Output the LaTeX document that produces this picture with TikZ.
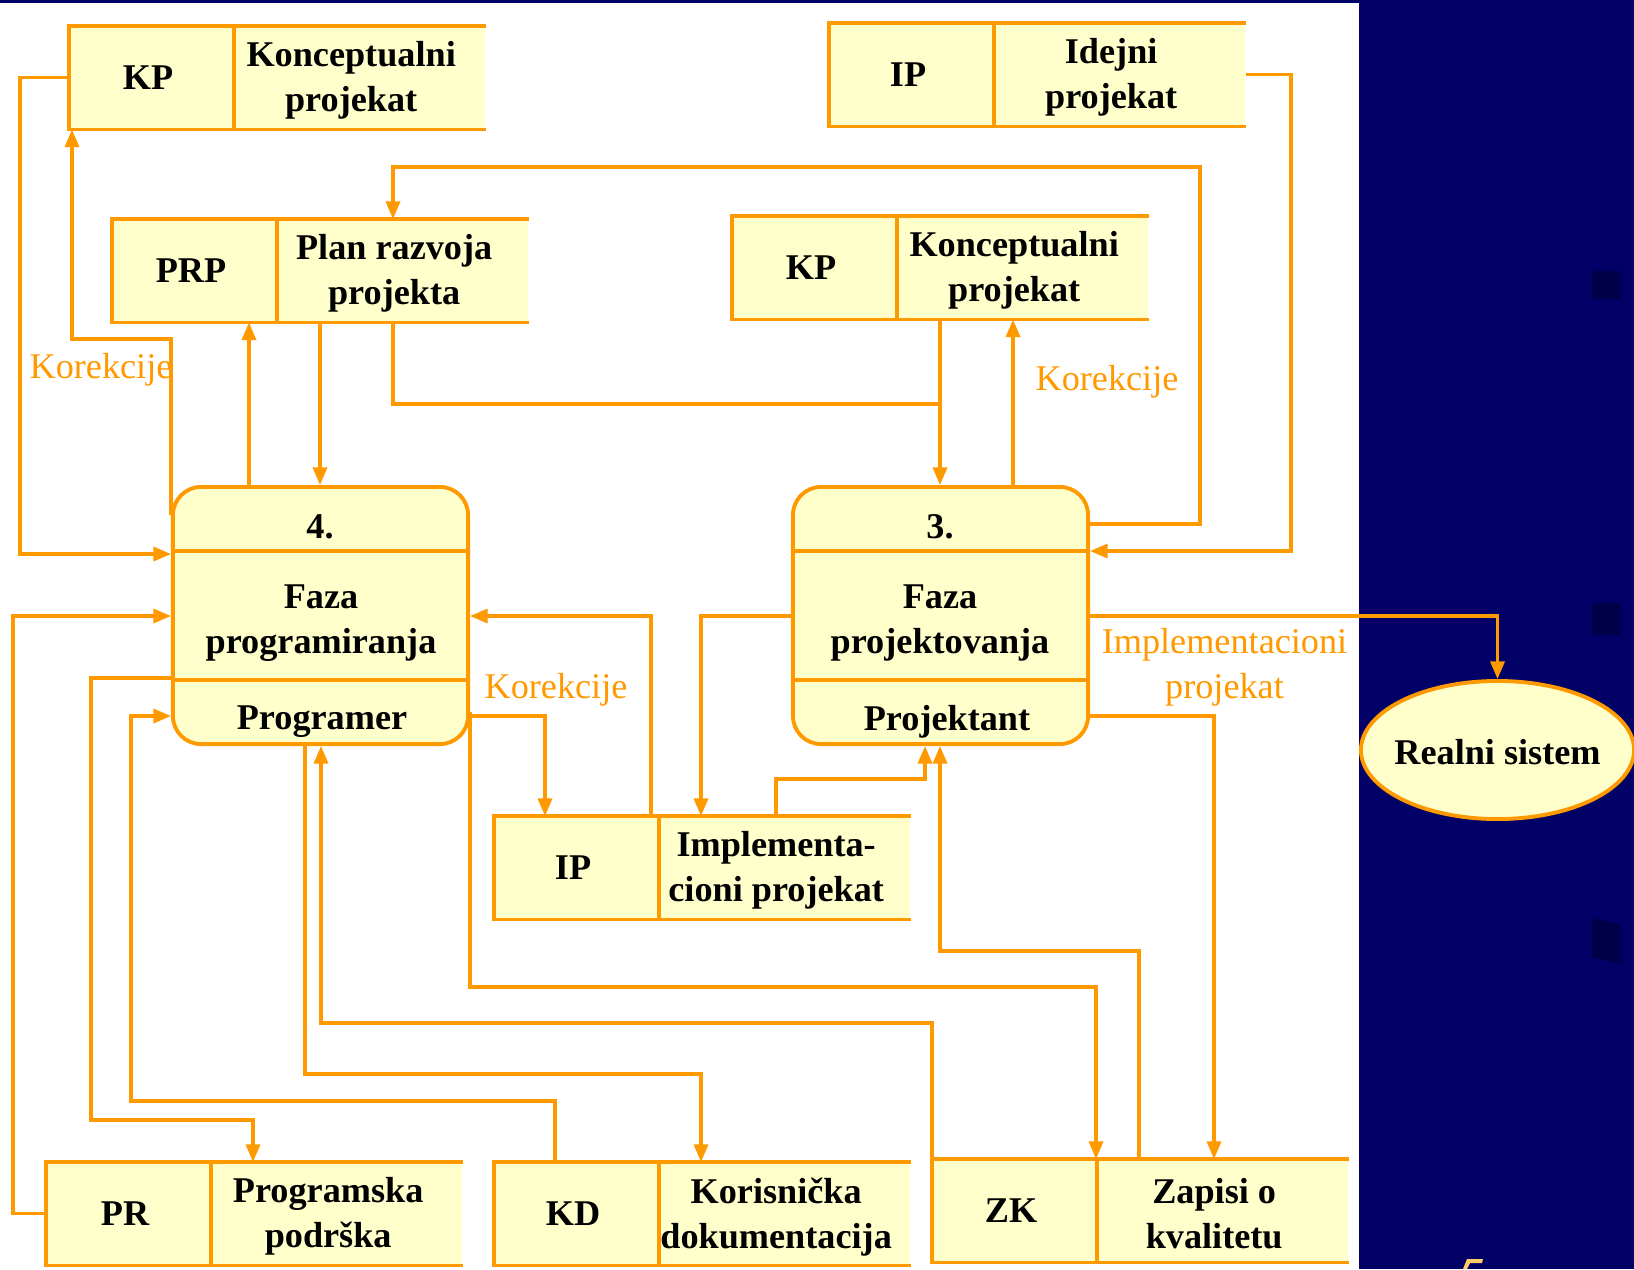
\documentclass[tikz,border=0pt]{standalone}
\usepackage{fontspec}
\setmainfont{Liberation Serif}
\usetikzlibrary{calc,arrows.meta,shapes.geometric,positioning}
\definecolor{dfdorange}{RGB}{255,153,0}
\definecolor{boxfill}{RGB}{255,255,204}
\definecolor{slidenavy}{RGB}{0,0,102}
\definecolor{bulletnavy}{RGB}{0,0,72}
\definecolor{numpeach}{RGB}{255,204,102}
\tikzset{
    store/.style={
    rectangle,fill=boxfill,minimum width=4.15cm,minimum height=1.02cm,inner sep=0pt,anchor=north west
    },
    storeline/.style={
    draw=dfdorange,line width=1.1pt
    },
    process/.style={
    rectangle,rounded corners=8pt,draw=dfdorange,fill=boxfill,line width=1.1pt,
    minimum width=2.95cm,minimum height=2.57cm,inner sep=0pt
    },
    external/.style={
    ellipse,draw=dfdorange,fill=boxfill,line width=1.1pt,
    minimum width=2.73cm,minimum height=1.38cm,inner sep=0pt
    },
    boxtext/.style={
    font=\bfseries\fontsize{10.3}{12.8}\selectfont,align=center,inner sep=0pt
    },
    flowtext/.style={
    text=dfdorange,font=\fontsize{10.3}{12.8}\selectfont,align=center,inner sep=0pt
    },
    wire/.style={
    draw=dfdorange,line width=0.9pt
    },
    flow/.style={
    wire,-{Triangle[length=5pt,width=4pt]}
    },
}
% data store: name, x, y (top left), short name, full name
\newcommand{\datastore}[5]{%
   \node[store] (#1) at (#2,#3) {};
   \draw[storeline] (#1.north east) -- (#1.north west) -- (#1.south west) -- (#1.south east);
   \draw[storeline] ([xshift=1.65cm]#1.north west) -- ([xshift=1.65cm]#1.south west);
   \node[boxtext] (#1-id) at ([xshift=0.79cm]#1.west) {#4};
   \node[boxtext] (#1-txt) at ([xshift=2.82cm,yshift=-0.03cm]#1.west) {#5};
}

\begin{document}
\begin{tikzpicture}[x=0.01cm, y=-0.01cm]
   \useasboundingbox (0,0) rectangle (1634,1269);
   \fill[white] (0,0) rectangle (1359,1269);
   \fill[slidenavy] (1359,0) rectangle (1634,1269);
   \fill[slidenavy] (0,0) rectangle (1359,2.5);
   %bullet marks on the slide
   \fill[bulletnavy] (1592,271) rectangle (1620,299);
   \fill[bulletnavy] (1592,603) rectangle (1620,635);
   \fill[bulletnavy] (1592,918) -- (1620,924) -- (1620,963) -- (1592,957) -- cycle;
   \fill[numpeach] (1463,1269) -- (1467,1259) -- (1483,1259) -- (1482,1263) -- (1470,1263) -- (1467,1269) -- cycle;

   %data stores
   \datastore{kpa}{69}{26}{KP}{Konceptualni\\projekat}
   \datastore{ipa}{829}{23}{IP}{Idejni\\projekat}
   \datastore{prp}{112}{219}{PRP}{Plan razvoja\\projekta}
   \datastore{kpb}{732}{216}{KP}{Konceptualni\\projekat}
   \datastore{ipb}{494}{816}{IP}{Implementa-\\cioni projekat}
   \datastore{pr}{46}{1162}{PR}{Programska\\podrška}
   \datastore{kd}{494}{1162}{KD}{Korisnička\\dokumentacija}
   \datastore{zk}{932}{1159}{ZK}{Zapisi o\\kvalitetu}

   %processes
   \node[process] (p4) at (320.5,615.5) {};
   \draw[storeline] (p4.west |- 0,551) -- (p4.east |- 0,551);
   \draw[storeline] (p4.west |- 0,680) -- (p4.east |- 0,680);
   \node[boxtext] (p4-num) at (320,527) {4.};
   \node[boxtext] (p4-name) at (321,623) {Faza\\programiranja};
   \node[boxtext] (p4-role) at (322,722) {Programer};

   \node[process] (p3) at (940.5,615.5) {};
   \draw[storeline] (p3.west |- 0,551) -- (p3.east |- 0,551);
   \draw[storeline] (p3.west |- 0,680) -- (p3.east |- 0,680);
   \node[boxtext] (p3-num) at (940,527) {3.};
   \node[boxtext] (p3-name) at (940,623) {Faza\\projektovanja};
   \node[boxtext] (p3-role) at (947,722) {Projektant};

   \node[external] (rs) at (1497.5,750) {};
   \node[boxtext] (rs-txt) at ([yshift=-0.02cm]rs.center) {Realni sistem};

   %flows of phase 4
   \draw[flow] (kpa.west) -| (20,554) -- (p4.west |- 0,554);
   \draw[flow] (p4.west |- 0,515) |- (72,339) -- (kpa.south -| 72,0);
   \draw[flow] (p4.north -| 249,0) -- (prp.south -| 249,0);
   \draw[flow] (prp.south -| 320,0) -- (p4.north -| 320,0);
   \draw[flow] (ipb.north -| 651,0) |- (p4.east |- 0,616);
   \draw[flow] (p4.east |- 0,716) -| (ipb.north -| 545,0);
   \draw[flow] (p4.east |- 0,712) |- (1096,987) -- (zk.north -| 1096,0);
   \draw[flow] (zk.north west) |- (321,1023) -- (p4.south -| 321,0);
   \draw[flow] (p4.south -| 305,0) |- (701,1074) -- (kd.north -| 701,0);
   \draw[flow] (kd.north -| 555,0) |- (131,1101) |- (p4.west |- 0,716);
   \draw[flow] (p4.west |- 0,678) -| (91,1120) -| (pr.north -| 253,0);
   \draw[flow] (pr.west) -| (13,616) -- (p4.west |- 0,616);

   %flows of phase 3
   \draw[wire] (prp.south -| 393,0) |- (940,404);
   \draw[flow] (kpb.south -| 940,0) -- (p3.north -| 940,0);
   \draw[flow] (p3.north -| 1013,0) -- (kpb.south -| 1013,0);
   \draw[flow] (p3.east |- 0,524) -| (1200,167) -| (prp.north -| 393,0);
   \draw[flow] (ipa.east) -| (1291,551) -- (p3.east |- 0,551);
   \draw[flow] (p3.east |- 0,616) -| (rs.north);
   \draw[flow] (p3.west |- 0,616) -| (ipb.north -| 701,0);
   \draw[flow] (ipb.north -| 776,0) |- (925,779) -- (p3.south -| 925,0);
   \draw[flow] (zk.north -| 1139,0) |- (940,951) -- (p3.south -| 940,0);
   \draw[flow] (p3.east |- 0,716) -| (zk.north -| 1214,0);

   %flow labels
   \node[flowtext] (kor1) at (101,370) {Korekcije};
   \node[flowtext] (kor2) at (1107,382) {Korekcije};
   \node[flowtext] (kor3) at (556,690) {Korekcije};
   \node[flowtext] (impl) at (1224.5,667) {Implementacioni\\projekat};
\end{tikzpicture}
\end{document}
